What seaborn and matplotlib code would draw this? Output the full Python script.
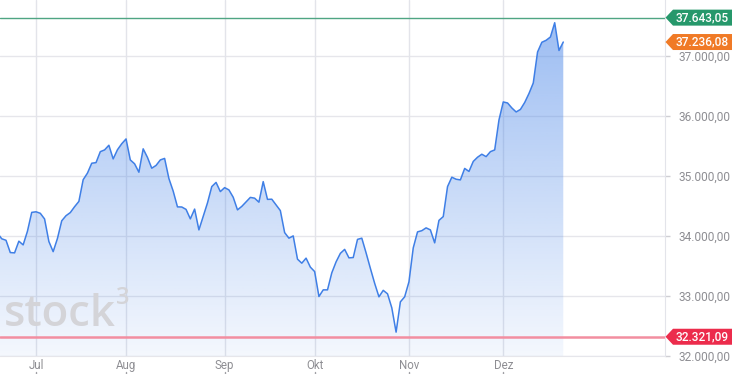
import numpy as np
import pandas as pd
import matplotlib
matplotlib.use("Agg")
import matplotlib.pyplot as plt
from matplotlib.patches import Polygon
import seaborn as sns

# daily index level (weekdays), Jun 20 - Dec 21
jun = [34050, 33955, 33930, 33725, 33720, 33915, 33853, 34080, 34395]
jul = [34405, 34380, 34285, 33910, 33740, 33960, 34255, 34340, 34392, 34490,
       34578, 34940, 35050, 35215, 35225, 35408, 35437, 35515, 35287, 35440,
       35540]
aug = [35620, 35270, 35205, 35065, 35455, 35312, 35132, 35178, 35270, 35295,
       34960, 34750, 34487, 34485, 34445, 34287, 34450, 34103, 34325, 34553,
       34825, 34895, 34742]
sep = [34808, 34770, 34648, 34437, 34495, 34570, 34645, 34632, 34565, 34908,
       34612, 34615, 34520, 34425, 34058, 33965, 34003, 33615, 33548, 33632,
       33482]
okt = [33408, 32992, 33103, 33103, 33387, 33570, 33712, 33778, 33637, 33642,
       33945, 33965, 33720, 33462, 33212, 32987, 33095, 33037, 32803, 32398,
       32903, 32987]
nov = [33237, 33803, 34070, 34090, 34137, 34103, 33887, 34262, 34325, 34825,
       34982, 34948, 34937, 35128, 35078, 35245, 35315, 35365, 35325, 35408,
       35437, 35937]
dez = [36237, 36220, 36137, 36070, 36112, 36228, 36378, 36553, 37070, 37232,
       37265, 37320, 37558, 37095, 37236.08]

month_labels = ["Jul", "Aug", "Sep", "Okt", "Nov", "Dez"]
y_ticks = [32000, 33000, 34000, 35000, 36000, 37000]

high = 37643.05
last = 37236.08
low = 32321.09


def de_fmt(v):
    s = f"{v:,.2f}"
    return s.replace(",", "X").replace(".", ",").replace("X", ".")


def main():
    sns.set_style("white")
    plt.rcParams["font.family"] = ["Roboto", "DejaVu Sans"]

    values = jun + jul + aug + sep + okt + nov + dez
    dates = pd.bdate_range("2023-06-20", periods=len(values))
    df = pd.DataFrame({"pos": np.arange(len(values)), "value": values, "date": dates})
    # first trading day of every month after june
    firsts = df.groupby(df["date"].dt.to_period("M"))["pos"].min().iloc[1:].values

    fig = plt.figure(figsize=(7.32, 3.74), dpi=100)
    ax = fig.add_axes([0, 18 / 374, 665.3 / 732, 356 / 374])
    x0, x1 = 0.6, 155.8
    y0, y1 = 32000, 37937

    # grid
    for t in y_ticks:
        ax.axhline(t, color="#e6e6eb", lw=1, zorder=0)
    for p in firsts:
        ax.axvline(p, color="#e3e4ea", lw=1, zorder=0)

    # gradient fill under the line
    fill = ax.fill_between(df["pos"], df["value"], y0, facecolor="none", edgecolor="none")
    grad = np.zeros((256, 1, 4))
    grad[:, 0, :3] = np.array([74, 134, 232]) / 255
    grad[:, 0, 3] = np.linspace(0.06, 0.55, 256)
    im = ax.imshow(grad, extent=[x0, df["pos"].iloc[-1], y0, high], origin="lower",
                   aspect="auto", zorder=1)
    im.set_clip_path(fill.get_paths()[0], transform=ax.transData)

    sns.lineplot(data=df, x="pos", y="value", ax=ax, color="#3f7fe6", lw=1.1, zorder=3)

    ax.axhline(high, color="#4fa583", lw=1, zorder=2)
    ax.axhline(low, color="#f28ea0", lw=1.8, zorder=2)

    ax.set_xlim(x0, x1)
    ax.set_ylim(y0, y1)
    ax.set_xlabel("")
    ax.set_ylabel("")

    ax.yaxis.tick_right()
    ax.set_yticks(y_ticks)
    ax.set_yticklabels([de_fmt(t) for t in y_ticks])
    ax.set_xticks(firsts)
    ax.set_xticklabels(month_labels)
    ax.tick_params(axis="y", length=3.5, width=1, color="#cfcfd4", pad=6,
                   labelsize=8.6, labelcolor="#8e8e93")
    ax.tick_params(axis="x", length=0, pad=2.5, labelsize=8.3, labelcolor="#8e8e93")
    for side in ["left", "top"]:
        ax.spines[side].set_visible(False)
    ax.spines["right"].set_color("#e3e4ea")
    ax.spines["bottom"].set_color("#e6e6eb")

    # watermark
    ax.text(0.006, 0.083, "stock", transform=ax.transAxes, fontsize=31.5,
            family="Open Sans", fontweight="semibold", color="#d4d4d8", zorder=4)
    ax.text(0.174, 0.145, "3", transform=ax.transAxes, fontsize=17,
            family="Open Sans", fontweight="semibold", color="#d4d4d8", zorder=4)

    # overlay in pixel coords for price tags
    ov = fig.add_axes([0, 0, 1, 1], facecolor="none")
    ov.set_xlim(0, 732)
    ov.set_ylim(0, 374)
    ov.axis("off")
    for v, col in [(high, "#26986b"), (last, "#f07a26"), (low, "#ec2c4c")]:
        yp = ax.transData.transform((0, v))[1]
        shape = [(665.5, yp), (673, yp + 8), (732, yp + 8), (732, yp - 8), (673, yp - 8)]
        ov.add_patch(Polygon(shape, closed=True, facecolor=col, edgecolor="none"))
        ov.text(702, yp, de_fmt(v), color="white", fontsize=8.6, fontweight="medium",
                ha="center", va="center")
    # small tick marks under the month labels
    for p in firsts:
        xp = ax.transData.transform((p, y0))[0]
        ov.plot([xp, xp], [0, 2.5], color="#a0a0a5", lw=1)

    plt.savefig("out.png", dpi=100)


if __name__ == "__main__":
    main()
